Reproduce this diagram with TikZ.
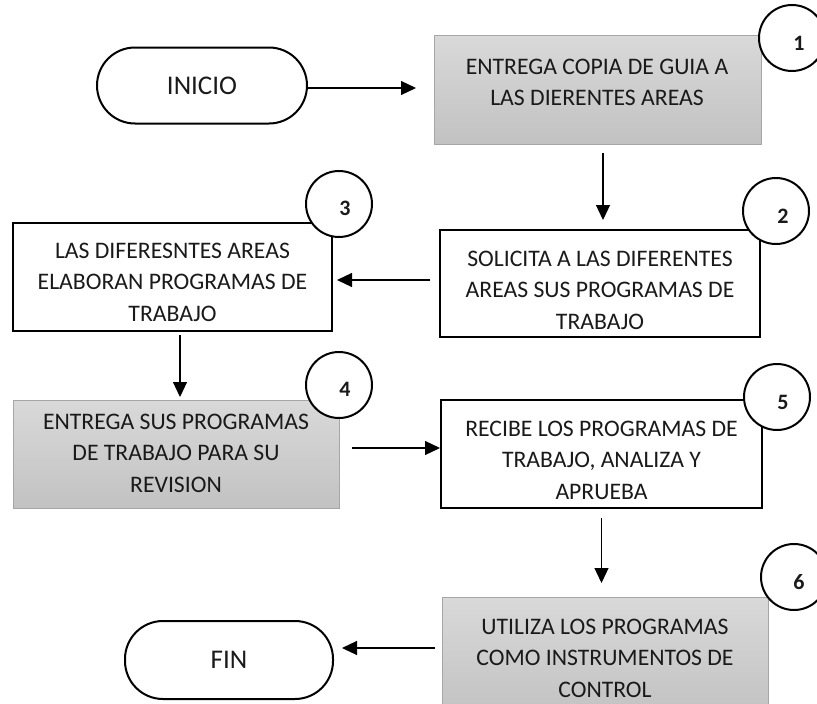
\documentclass[tikz,border=0pt]{standalone}
\usepackage{fontspec}
\setmainfont{Carlito}
\usetikzlibrary{arrows.meta}
\definecolor{gtop}{HTML}{D9D9D9}
\definecolor{gbot}{HTML}{C2C2C2}
\definecolor{gedge}{HTML}{A6A6A6}
\definecolor{ink}{HTML}{1A1A1A}
\begin{document}
\begin{tikzpicture}[x=1pt,y=-1pt,
  graybox/.style={draw=gedge, line width=1pt, top color=gtop, bottom color=gbot, inner sep=0pt, outer sep=0pt},
  whitebox/.style={draw=black, line width=2.2pt, fill=white, inner sep=0pt, outer sep=0pt},
  boxtext/.style={align=center, inner sep=0pt, font=\fontsize{23.7pt}{31.5pt}\selectfont, text=ink},
  term/.style={draw=black, line width=2pt, fill=white, rounded corners=38pt, minimum width=210pt, minimum height=76pt, inner sep=0pt, outer sep=0pt, font=\fontsize{27pt}{32pt}\selectfont, text=ink},
  numcirc/.style={circle, draw=black, line width=2pt, fill=white, minimum size=66pt, inner sep=0pt},
  numtext/.style={font=\fontsize{22pt}{26pt}\selectfont\bfseries, inner sep=0pt, text=ink},
  arr/.style={-{Triangle[length=15pt,width=14pt]}, line width=1.2pt}]
\path[use as bounding box, clip] (0,0) rectangle (817,704);
\fill[white] (0,0) rectangle (817,704);

% terminals
\node[term] (ini) at (202,85.5) {INICIO};
\node[term, minimum height=78pt, minimum width=208pt] (fin) at (229,660) {FIN};

% boxes
\node[graybox, minimum width=327pt, minimum height=109pt] (b1) at (597.5,89.5) {};
\node[whitebox, minimum width=320pt, minimum height=107pt] (b2) at (600,283.5) {};
\node[whitebox, minimum width=319pt, minimum height=108pt] (b3) at (172.5,277) {};
\node[graybox, minimum width=326pt, minimum height=108pt] (b4) at (176,454) {};
\node[whitebox, minimum width=321pt, minimum height=108pt] (b5) at (601.5,454) {};
\node[graybox, minimum width=326pt, minimum height=118pt] (b6) at (605,656) {};

% box texts
\node[boxtext] (t1) at (597,82.5) {ENTREGA COPIA DE GUIA A\\LAS DIERENTES AREAS};
\node[boxtext] (t2) at (600,290) {SOLICITA A LAS DIFERENTES\\AREAS SUS PROGRAMAS DE\\TRABAJO};
\node[boxtext] (t3) at (172.5,282) {LAS DIFERESNTES AREAS\\ELABORAN PROGRAMAS DE\\TRABAJO};
\node[boxtext] (t4) at (176,453) {ENTREGA SUS PROGRAMAS\\DE TRABAJO PARA SU\\REVISION};
\node[boxtext] (t5) at (601.5,460) {RECIBE LOS PROGRAMAS DE\\TRABAJO, ANALIZA Y\\APRUEBA};
\node[boxtext] (t6) at (605,658) {UTILIZA LOS PROGRAMAS\\COMO INSTRUMENTOS DE\\CONTROL};

% number circles
\node[numcirc] (c1) at (792,38) {};
\node[numcirc] (c2) at (776,211) {};
\node[numcirc] (c3) at (339,204) {};
\node[numcirc] (c4) at (339,385) {};
\node[numcirc] (c5) at (777,397) {};
\node[numcirc] (c6) at (794,577) {};
\node[numtext] (n1) at (799,43) {1};
\node[numtext] (n2) at (783,216) {2};
\node[numtext] (n3) at (345,208) {3};
\node[numtext] (n4) at (345,389) {4};
\node[numtext] (n5) at (783,402) {5};
\node[numtext] (n6) at (799,582) {6};

% connectors
\draw[arr, shorten >=18pt] ([yshift=-2.5pt]ini.east) -- ([yshift=-2.5pt]ini.east -| b1.west);
\draw[arr, shorten <=9pt, shorten >=10pt] ([xshift=5.5pt]b1.south) -- ([xshift=5.5pt]b1.south |- b2.north);
\draw[arr, shorten <=10pt, shorten >=5pt] ([yshift=3.5pt]b2.west) -- ([yshift=3.5pt]b2.west -| b3.east);
\draw[arr, shorten <=4pt, shorten >=3pt] ([xshift=7.5pt]b3.south) -- ([xshift=7.5pt]b3.south |- b4.north);
\draw[arr, shorten <=13pt, shorten >=1pt] ([yshift=6pt]b4.east) -- ([yshift=6pt]b4.east -| b5.west);
\draw[arr, shorten <=10pt, shorten >=14pt] (b5.south) -- (b5.south |- b6.north);
\draw[arr, shorten <=7pt, shorten >=9pt] ([yshift=8pt]b6.west) -- ([yshift=8pt]b6.west -| fin.east);
\end{tikzpicture}
\end{document}
